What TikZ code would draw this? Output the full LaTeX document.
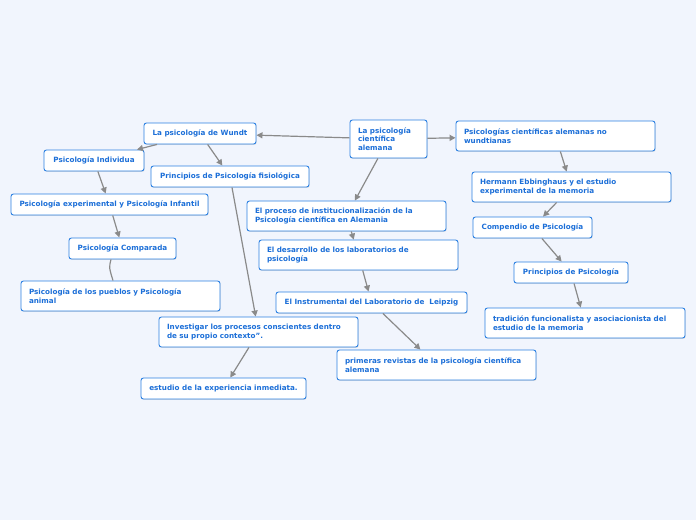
\documentclass[tikz,border=0pt]{standalone}
\usepackage{fontspec}
\setmainfont{DejaVu Sans}
\usetikzlibrary{arrows.meta,shadows}
\definecolor{bgblue}{HTML}{F1F5FD}
\definecolor{mapblue}{HTML}{2B80E2}
\definecolor{maptext}{HTML}{1C6FD8}
\definecolor{linkgray}{HTML}{8A8A8A}

\begin{document}
\begin{tikzpicture}[
  x=1pt, y=-1pt,
  font=\bfseries\fontsize{7.2}{8.8}\selectfont,
  topic/.style={draw=mapblue, fill=white, text=maptext, rounded corners=2.5pt, line width=0.9pt,
    inner xsep=8pt, inner ysep=2pt, drop shadow={shadow xshift=0.7pt, shadow yshift=-0.9pt, fill=black!22}},
  single/.style={topic, minimum width=#1, minimum height=21pt},
  multi/.style={topic, text width=#1, align=left},
  link/.style={-{Triangle[length=6pt,width=6pt]}, draw=linkgray, line width=1.2pt},
  plain/.style={draw=linkgray, line width=1.2pt}
]
\fill[bgblue] (0,0) rectangle (696,520);
\useasboundingbox (0,0) rectangle (696,520);

\node[multi=61pt, minimum height=38pt] (alemana) at (388.5,139) {La psicología\\científica\\alemana};
\node[single=112pt] (wundt) at (200,133.5) {La psicología de Wundt};
\node[single=100pt] (individua) at (94,160.5) {Psicología Individua};
\node[single=158pt] (fisiologica) at (230,176.5) {Principios de Psicología fisiológica};
\node[single=197pt] (experimental) at (109.5,204.5) {Psicología experimental y Psicología Infantil};
\node[single=107pt] (comparada) at (122.5,248.5) {Psicología Comparada};
\node[multi=183pt, minimum height=30pt] (pueblos) at (120.5,296) {Psicología de los pueblos y Psicología\\animal};
\node[multi=183pt, minimum height=30pt] (investigar) at (258.5,332) {Investigar los procesos conscientes dentro\\de su propio contexto”.};
\node[single=165pt] (estudio) at (223.5,388.5) {estudio de la experiencia inmediata.};
\node[multi=183pt, minimum height=30pt] (proceso) at (346.5,216) {El proceso de institucionalización de la\\Psicología científica en Alemania};
\node[multi=183pt, minimum height=30pt] (desarrollo) at (358.5,255) {El desarrollo de los laboratorios de\\psicología};
\node[single=191pt] (instrumental) at (371.5,302.5) {El Instrumental del Laboratorio de\ \ Leipzig};
\node[multi=183pt, minimum height=30pt] (revistas) at (436.5,365) {primeras revistas de la psicología científica\\alemana};
\node[multi=183pt, minimum height=30pt] (nowundt) at (555.5,136) {Psicologías científicas alemanas no\\wundtianas};
\node[multi=183pt, minimum height=30pt] (ebbinghaus) at (571.5,187) {Hermann Ebbinghaus y el estudio\\experimental de la memoria};
\node[single=119pt] (compendio) at (532.5,227.5) {Compendio de Psicología};
\node[single=114pt] (principios) at (571,272.5) {Principios de Psicología};
\node[multi=184pt, minimum height=30pt] (tradicion) at (585,323) {tradición funcionalista y asociacionista del\\estudio de la memoria};

\draw[link] (alemana) -- (wundt);
\draw[link] (alemana) -- (nowundt);
\draw[link] (alemana) -- (proceso);
\draw[link] (wundt) -- (individua);
\draw[link] (wundt) -- (fisiologica);
\draw[link] (individua) -- (experimental);
\draw[link] (experimental) -- (comparada);
\draw[plain] ([xshift=-11.5pt]comparada.south) .. controls +(-2,8) .. ([xshift=-7.5pt]pueblos.north);
\draw[link] (fisiologica) -- (investigar);
\draw[link] (investigar) -- (estudio);
\draw[link] (proceso) -- (desarrollo);
\draw[link] (desarrollo) -- (instrumental);
\draw[link] (instrumental) -- (revistas);
\draw[link] (nowundt) -- (ebbinghaus);
\draw[link] (ebbinghaus) -- (compendio);
\draw[link] (compendio) -- (principios);
\draw[link] (principios) -- (tradicion);
\end{tikzpicture}
\end{document}
